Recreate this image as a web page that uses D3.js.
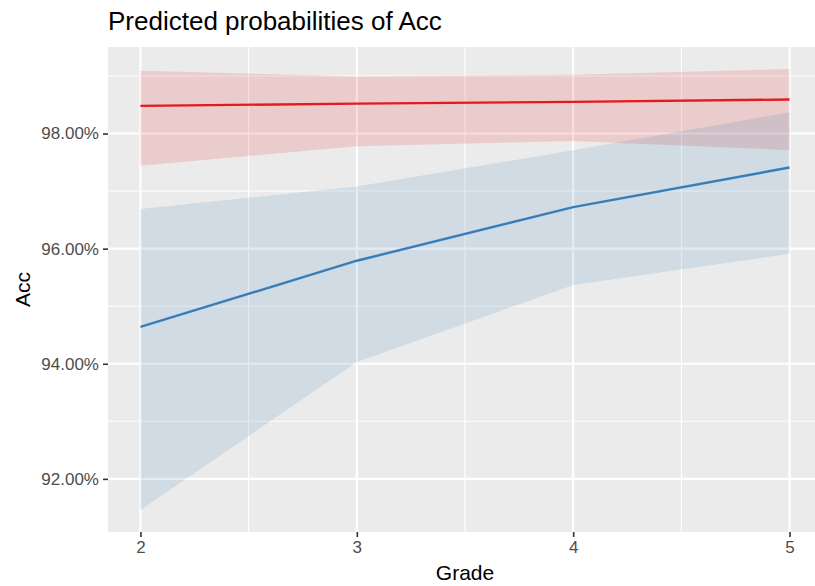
<!DOCTYPE html>
<html>
<head>
<meta charset="utf-8">
<script src="https://cdnjs.cloudflare.com/ajax/libs/d3/7.8.5/d3.min.js"></script>
<style>
  body { margin: 0; background: #fff; }
  text { font-family: "Liberation Sans", Arial, Helvetica, sans-serif; }
</style>
</head>
<body>
<svg id="chart" width="815" height="586"></svg>
<script>
// predicted values (in percent) per grade
var grades = [2, 3, 4, 5];
var yTicks = [92, 94, 96, 98];
var yMinor = [93, 95, 97, 99];
var xMinor = [2.5, 3.5, 4.5];

var redFit  = [98.48, 98.52, 98.55, 98.59];
var redLow  = [97.44, 97.78, 97.87, 97.71];
var redHigh = [99.09, 98.99, 99.02, 99.12];

var blueFit  = [94.64, 95.79, 96.72, 97.41];
var blueLow  = [91.46, 94.03, 95.37, 95.91];
var blueHigh = [96.69, 97.08, 97.71, 98.37];

var series = [
    {color: "#e41a1c", fit: redFit, low: redLow, high: redHigh},
    {color: "#377eb8", fit: blueFit, low: blueLow, high: blueHigh}
];

var panel = {left: 108, right: 822, top: 47, bottom: 532};

// ggplot style 5% expansion of the data range
var allY = d3.merge(series.map(function(s) { return s.low.concat(s.high); }));
var yMin = d3.min(allY), yMax = d3.max(allY), yPad = (yMax - yMin) * 0.05;
var xMin = d3.min(grades), xMax = d3.max(grades), xPad = (xMax - xMin) * 0.05;

var x = d3.scaleLinear()
    .domain([xMin - xPad, xMax + xPad])
    .range([panel.left, panel.right]);

var y = d3.scaleLinear()
    .domain([yMin - yPad, yMax + yPad])
    .range([panel.bottom, panel.top]);

var svg = d3.select("#chart");

svg.append("rect")
    .attr("x", panel.left)
    .attr("y", panel.top)
    .attr("width", panel.right - panel.left)
    .attr("height", panel.bottom - panel.top)
    .attr("fill", "#ebebeb");

var grid = svg.append("g").attr("stroke", "#fff");

grid.selectAll(".ymin").data(yMinor).enter().append("line")
    .attr("x1", panel.left).attr("x2", panel.right)
    .attr("y1", function(d) { return y(d); }).attr("y2", function(d) { return y(d); })
    .attr("stroke-width", 1.1);

grid.selectAll(".xmin").data(xMinor).enter().append("line")
    .attr("y1", panel.top).attr("y2", panel.bottom)
    .attr("x1", function(d) { return x(d); }).attr("x2", function(d) { return x(d); })
    .attr("stroke-width", 1.1);

grid.selectAll(".ymaj").data(yTicks).enter().append("line")
    .attr("x1", panel.left).attr("x2", panel.right)
    .attr("y1", function(d) { return y(d); }).attr("y2", function(d) { return y(d); })
    .attr("stroke-width", 2.2);

grid.selectAll(".xmaj").data(grades).enter().append("line")
    .attr("y1", panel.top).attr("y2", panel.bottom)
    .attr("x1", function(d) { return x(d); }).attr("x2", function(d) { return x(d); })
    .attr("stroke-width", 2.2);

// ribbons first, then the lines on top
var area = d3.area()
    .x(function(d, i) { return x(grades[i]); })
    .y0(function(d) { return y(d[0]); })
    .y1(function(d) { return y(d[1]); });

var line = d3.line()
    .x(function(d, i) { return x(grades[i]); })
    .y(function(d) { return y(d); });

svg.selectAll(".band").data(series).enter().append("path")
    .attr("d", function(s) { return area(d3.zip(s.low, s.high)); })
    .attr("fill", function(s) { return s.color; })
    .attr("fill-opacity", 0.15);

svg.selectAll(".fit").data(series).enter().append("path")
    .attr("d", function(s) { return line(s.fit); })
    .attr("fill", "none")
    .attr("stroke", function(s) { return s.color; })
    .attr("stroke-width", 2.4);

// axes
var xAxis = d3.axisBottom(x)
    .tickValues(grades)
    .tickFormat(d3.format("d"))
    .tickSize(5)
    .tickPadding(4);

var yAxis = d3.axisLeft(y)
    .tickValues(yTicks)
    .tickFormat(function(d) { return d3.format(".2f")(d) + "%"; })
    .tickSize(5)
    .tickPadding(4);

var gx = svg.append("g")
    .attr("transform", "translate(0," + panel.bottom + ")")
    .call(xAxis);

var gy = svg.append("g")
    .attr("transform", "translate(" + panel.left + ",0)")
    .call(yAxis);

[gx, gy].forEach(function(g) {
    g.select(".domain").remove();
    g.selectAll(".tick line").attr("stroke", "#333").attr("stroke-width", 1.6);
    g.selectAll(".tick text")
        .attr("fill", "#4d4d4d")
        .style("font-size", "17px");
});

svg.append("text")
    .attr("x", (panel.left + panel.right) / 2)
    .attr("y", 580)
    .attr("text-anchor", "middle")
    .style("font-size", "21px")
    .text("Grade");

svg.append("text")
    .attr("transform", "translate(30," + (panel.top + panel.bottom) / 2 + ") rotate(-90)")
    .attr("text-anchor", "middle")
    .style("font-size", "21px")
    .text("Acc");

svg.append("text")
    .attr("x", panel.left)
    .attr("y", 30)
    .style("font-size", "26px")
    .text("Predicted probabilities of Acc");
</script>
</body>
</html>
